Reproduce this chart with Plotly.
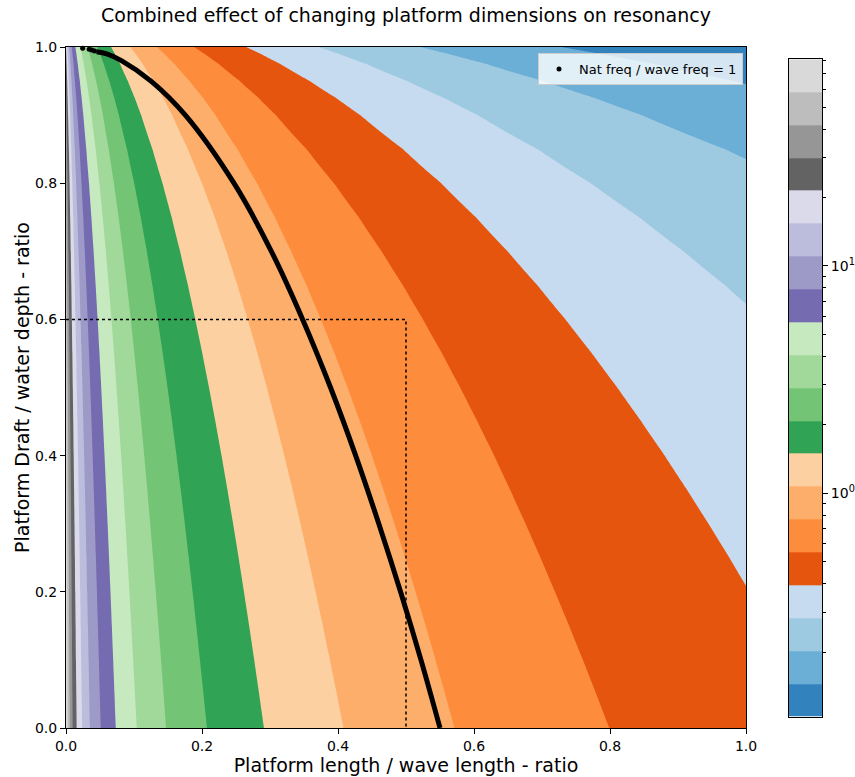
import numpy as np
import plotly.graph_objects as go

# ---------------- values ----------------
# log colour bar: 20 equal log bands between these limits
cbar_min = 0.104
cbar_max = 81.1
n_bands = 20
band_colors = ["#3182bd", "#6baed6", "#9ecae1", "#c6dbef",
               "#e6550d", "#fd8d3c", "#fdae6b", "#fdd0a2",
               "#31a354", "#74c476", "#a1d99b", "#c7e9c0",
               "#756bb1", "#9e9ac8", "#bcbddc", "#dadaeb",
               "#636363", "#969696", "#bdbdbd", "#d9d9d9"]
cbar_tick_vals = [1, 10]
cbar_tick_text = ["10<sup>0</sup>", "10<sup>1</sup>"]
cbar_minor_vals = [0.2, 0.3, 0.4, 0.5, 0.6, 0.7, 0.8, 0.9,
                   2, 3, 4, 5, 6, 7, 8, 9, 20, 30, 40, 50, 60, 70, 80]

# field: (nat freq / wave freq) * (length ratio + offset), read per draft row
draft_rows = [0.0, 0.05, 0.1, 0.15, 0.2, 0.25, 0.3, 0.35, 0.4, 0.45, 0.5,
              0.55, 0.6, 0.65, 0.7, 0.75, 0.8, 0.85, 0.9, 0.925, 0.95,
              0.975, 0.99, 1.0]
row_coef = [0.4418, 0.4313, 0.4205, 0.4094, 0.3980, 0.3863, 0.3742, 0.3617,
            0.3488, 0.3353, 0.3213, 0.3067, 0.2913, 0.2751, 0.2578, 0.2394,
            0.2193, 0.1972, 0.1724, 0.1585, 0.1432, 0.1262, 0.1147, 0.1064]
length_offset = 0.005

# black curve: nat freq / wave freq = 1
curve_length = [0.550, 0.522, 0.492, 0.460, 0.426, 0.389, 0.348, 0.302,
                0.247, 0.1755, 0.125, 0.0815, 0.060, 0.045]
curve_draft = [0.0, 0.1, 0.2, 0.3, 0.4, 0.5, 0.6, 0.7,
               0.8, 0.9, 0.95, 0.98, 0.99, 0.993]
top_dots_length = [0.0245, 0.034, 0.038, 0.042]
top_dots_draft = [0.998, 0.9966, 0.9956, 0.9941]

# dotted design point
design_length = 0.5
design_draft = 0.6

# ---------------- figure ----------------
log_min, log_max = np.log10(cbar_min), np.log10(cbar_max)
step = (log_max - log_min) / n_bands
level_edges = np.logspace(log_min, log_max, n_bands + 1)

nb = len(band_colors)
cscale = []
for k, c in enumerate(band_colors):
    lo = max(0.0, (k - 0.5) / (nb - 1))
    hi = min(1.0, (k + 0.5) / (nb - 1))
    cscale += [[lo, c], [hi, c]]

length_grid = np.linspace(0, 1, 801)
zlog = np.log10(np.array(row_coef)[:, None] / (length_grid[None, :] + length_offset))

fig = go.Figure()
fig.add_trace(go.Contour(
    x=length_grid, y=draft_rows, z=zlog,
    autocontour=False,
    contours=dict(start=log_min + step, end=log_min + (n_bands - 1) * step,
                  size=step, coloring="fill", showlines=False),
    colorscale=cscale, line=dict(width=0, smoothing=0.6),
    showscale=False, hoverinfo="skip", showlegend=False,
    xaxis="x", yaxis="y"))

fig.add_trace(go.Scatter(
    x=[0, design_length, design_length], y=[design_draft, design_draft, 0],
    mode="lines", line=dict(color="black", width=1.5, dash="dot"),
    showlegend=False, hoverinfo="skip"))

fig.add_trace(go.Scatter(
    x=curve_length, y=curve_draft, mode="lines",
    line=dict(color="black", width=5, shape="spline"),
    showlegend=False, hoverinfo="skip"))
fig.add_trace(go.Scatter(
    x=top_dots_length, y=top_dots_draft, mode="markers",
    marker=dict(color="black", size=5),
    name="Nat freq / wave freq = 1", cliponaxis=False))

# colour bar drawn as a heatmap on a log axis
fig.add_trace(go.Heatmap(
    x=[0, 1], y=level_edges, z=[[k] for k in range(nb)],
    zmin=0, zmax=nb - 1, colorscale=cscale, showscale=False,
    hoverinfo="skip", xaxis="x2", yaxis="y2"))

W, H = 855, 777
L, R, T, B = 66, 33, 47, 49
pw, ph = W - L - R, H - T - B
main_right = (746 - L) / pw
cb_left = (789 - L) / pw
cb_bot = (728 - 716.7) / ph
cb_top = (728 - 59.3) / ph

axis_font = dict(family="DejaVu Sans", size=14, color="black")
fig.update_layout(
    width=W, height=H,
    margin=dict(l=L, r=R, t=T, b=B, autoexpand=False),
    paper_bgcolor="white", plot_bgcolor="white",
    font=dict(family="DejaVu Sans", color="black"),
    title=dict(text="Combined effect of changing platform dimensions on resonancy",
               x=(L + main_right * pw / 2) / W, xanchor="center",
               xref="container", yref="container",
               y=1 - 15 / H, yanchor="middle", automargin=False,
               font=dict(family="DejaVu Sans", size=19, color="black")),
    xaxis=dict(domain=[0, main_right], range=[0, 1], tickvals=[0, 0.2, 0.4, 0.6, 0.8, 1.0],
               tickformat=".1f", ticks="outside", ticklen=5, tickcolor="black",
               showline=True, linecolor="black", linewidth=1, mirror=True,
               showgrid=False, zeroline=False, tickfont=axis_font, automargin=False,
               title=dict(text="Platform length / wave length - ratio",
                          font=dict(family="DejaVu Sans", size=19, color="black"),
                          standoff=4)),
    yaxis=dict(domain=[0, 1], range=[0, 1], tickvals=[0, 0.2, 0.4, 0.6, 0.8, 1.0],
               tickformat=".1f", ticks="outside", ticklen=5, tickcolor="black",
               showline=True, linecolor="black", linewidth=1, mirror=True,
               showgrid=False, zeroline=False, tickfont=axis_font, automargin=False,
               title=dict(text="Platform Draft / water depth - ratio",
                          font=dict(family="DejaVu Sans", size=19, color="black"),
                          standoff=0)),
    xaxis2=dict(domain=[cb_left, 1.0], range=[0, 1], anchor="y2",
                showticklabels=False, ticks="", showgrid=False, zeroline=False,
                showline=True, linecolor="black", linewidth=1, mirror=True,
                automargin=False),
    yaxis2=dict(domain=[cb_bot, cb_top], type="log", range=[log_min, log_max],
                anchor="x2", side="right", tickmode="array",
                tickvals=cbar_tick_vals, ticktext=cbar_tick_text,
                ticks="outside", ticklen=5, tickcolor="black", tickfont=axis_font,
                minor=dict(tickmode="array", tickvals=cbar_minor_vals, ticks="outside",
                           ticklen=3, tickcolor="black", showgrid=False),
                showgrid=False, zeroline=False, automargin=False,
                showline=True, linecolor="black", linewidth=1, mirror=True),
    legend=dict(x=(743 - L) / pw, xanchor="right", y=1 - 6 / ph, yanchor="top",
                bgcolor="rgba(255,255,255,0.8)", bordercolor="#cccccc", borderwidth=1,
                font=dict(family="DejaVu Sans", size=13, color="black"),
                tracegroupgap=0),
)

fig.write_html("out.html", config={"displayModeBar": False},
               post_script="document.body.style.margin='0px';document.body.style.padding='0px';")
